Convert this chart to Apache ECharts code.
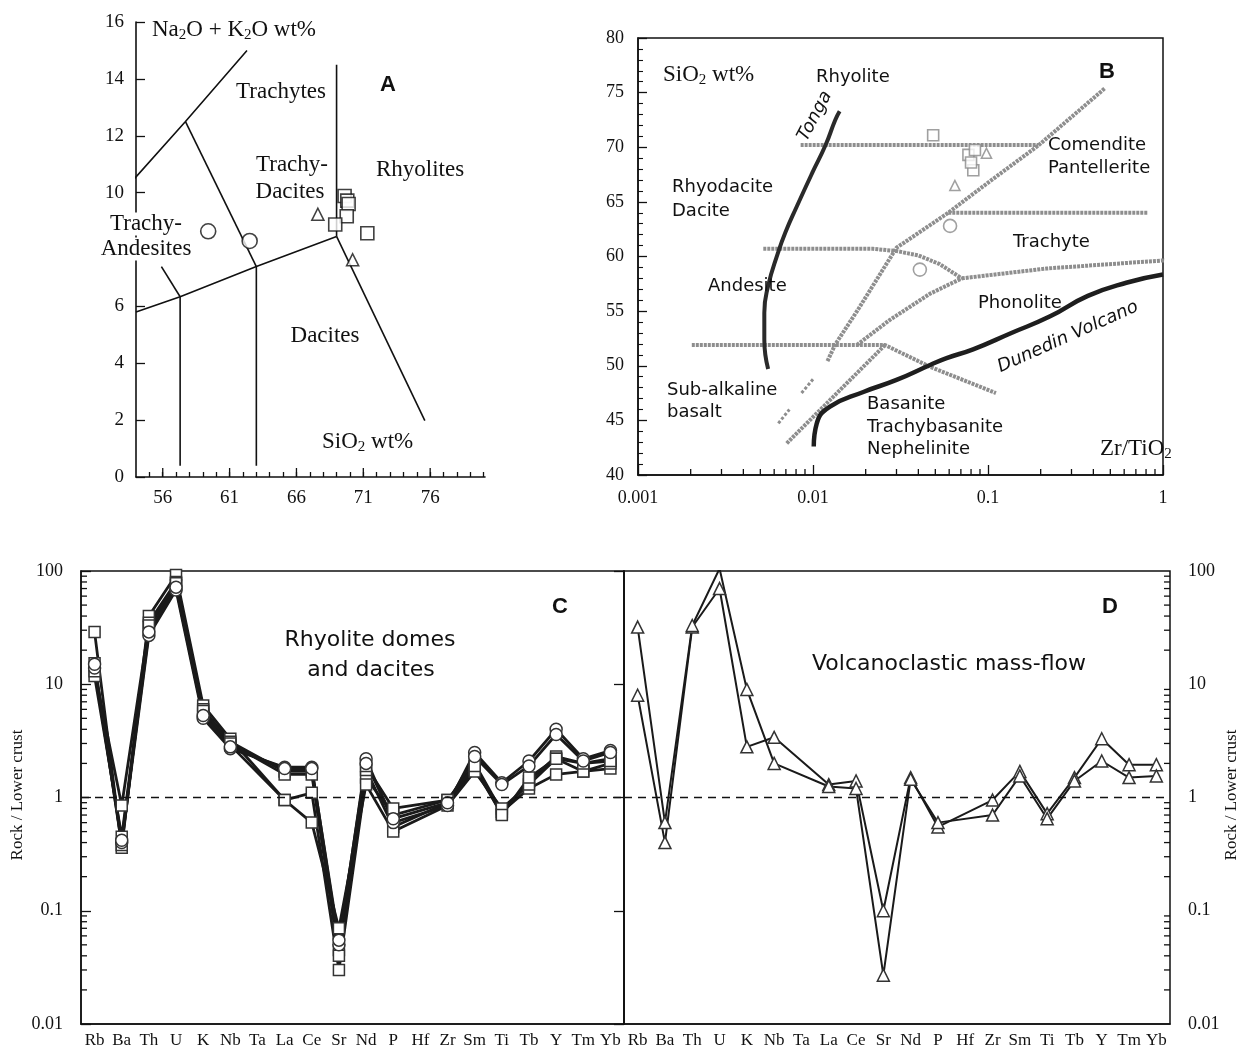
<!DOCTYPE html>
<html>
<head>
<meta charset="utf-8">
<script src="https://cdn.jsdelivr.net/npm/echarts@6/dist/echarts.min.js"></script>
<style>
html,body{margin:0;padding:0;background:#fff;}
#main{width:1244px;height:1053px;}
</style>
</head>
<body>
<div id="main"></div>
<script>
// ---------- Panel A (TAS) ----------
const tasXTicks = [55,56,57,58,59,60,61,62,63,64,65,66,67,68,69,70,71,72,73,74,75,76,77,78,79,80];
const tasXLabels = [56,61,66,71,76];
const tasLineAlkali = [[53.9,10.5],[57.7,12.5],[62.3,15.0]];
const tasLineTrachyDacite = [[57.7,12.5],[63.0,7.4]];
const tasLineRhyolite = [[69.0,14.5],[69.0,8.46]];
const tasLineLower = [[54.0,5.8],[57.3,6.34],[63.0,7.4],[69.0,8.46]];
const tasLineDacite = [[69.0,8.46],[75.6,1.98]];
const tasLine57 = [[57.3,6.34],[57.3,0.4]];
const tasLine63 = [[63.0,7.4],[63.0,0.4]];
const tasLineShort = [[55.9,7.4],[57.3,6.34]];
const tasCircles = [[59.4,8.64],[62.5,8.3]];
const tasSquares = [[69.6,9.88],[69.8,9.72],[69.9,9.6],[69.76,9.17],[68.9,8.88],[71.3,8.57]];
const tasTriangles = [[67.6,9.24],[70.2,7.64]];

// ---------- Panel B (Zr/TiO2 vs SiO2) ----------
const bTonga = [[0.00554,49.7],[0.00527,52.4],[0.00527,54.85],[0.00554,57.3],[0.0063,60.3],[0.00695,62.2],[0.00809,64.6],[0.0099,67.65],[0.0118,70.2],[0.0134,72.5],[0.0142,73.3]];
const bDunedin = [[0.0101,42.6],[0.0105,44.7],[0.0125,46.25],[0.0194,47.6],[0.030,48.7],[0.0467,50.07],[0.058,50.7],[0.0822,51.5],[0.136,53.0],[0.225,54.5],[0.372,56.4],[0.617,57.6],[1.0,58.35]];
const bLine70 = [[0.0085,70.2],[0.194,70.2]];
const bLine64 = [[0.0593,64.0],[0.82,64.0]];
const bLine61 = [[0.0052,60.7],[0.022,60.7],[0.030,60.5],[0.040,60.1],[0.053,59.3],[0.0708,58.0]];
const bLine52 = [[0.00203,51.9],[0.0258,51.9],[0.0467,49.9],[0.111,47.5]];
const bLineComendite = [[0.0121,50.43],[0.0134,51.95],[0.0181,55.15],[0.030,60.8],[0.0592,64.0],[0.1056,67.04],[0.1936,70.15],[0.468,75.43]];
const bLineBasanite = [[0.00708,42.9],[0.0258,51.9]];
const bLinePhonolite = [[0.0178,51.9],[0.0275,54.2],[0.0467,56.6],[0.0708,58.0]];
const bLineTrachyte = [[0.0708,58.0],[0.216,58.9],[1.14,59.7]];
const bDash1 = [[0.0086,47.5],[0.0100,48.76]];
const bDash2 = [[0.00634,44.73],[0.00733,46.0]];
const bSquares = [[0.0486,71.1],[0.0773,69.3],[0.0842,69.75],[0.0824,67.9],[0.0800,68.6]];
const bTriangles = [[0.098,69.45],[0.0647,66.5]];
const bCircles = [[0.0607,62.8],[0.0408,58.8]];

// ---------- Panels C & D (spider diagrams) ----------
const elements = ['Rb','Ba','Th','U','K','Nb','Ta','La','Ce','Sr','Nd','P','Hf','Zr','Sm','Ti','Tb','Y','Tm','Yb'];
const domeCircle1 = [13.9,0.40,27,68,5.0,2.7,null,1.85,1.85,0.05,2.2,0.60,null,0.85,2.5,1.35,2.1,4.0,2.2,2.6];
const domeCircle2 = [15.0,0.42,29,72,5.3,2.8,null,1.80,1.80,0.055,2.0,0.65,null,0.90,2.3,1.30,1.9,3.6,2.1,2.5];
const domeSquare1 = [29,0.36,40,92,6.5,3.3,null,0.95,1.10,0.030,1.5,0.70,null,0.95,2.0,0.75,1.2,1.6,1.7,1.8];
const domeSquare2 = [15.3,0.38,35,80,6.0,3.1,null,1.70,1.70,0.045,1.75,0.55,null,0.90,1.8,0.72,1.4,2.3,2.0,2.2];
const domeSquare3 = [11.8,0.45,32,75,5.5,2.9,null,0.95,0.60,0.070,1.3,0.50,null,0.85,1.7,0.80,1.3,2.2,1.7,2.0];
const domeSquare4 = [13.0,0.85,33,78,5.8,3.0,null,1.60,1.60,0.040,1.9,0.80,null,0.95,1.9,0.70,1.5,2.2,2.0,2.1];
const massFlow1 = [8.0,0.40,32,70,2.8,3.4,null,1.30,1.40,0.10,1.50,0.55,null,0.95,1.70,0.72,1.50,3.3,1.95,1.95];
const massFlow2 = [32,0.60,33,105,9.0,2.0,null,1.25,1.20,0.027,1.45,0.60,null,0.70,1.55,0.65,1.40,2.1,1.50,1.55];

// ---------- helpers ----------
const serif = "'Liberation Serif','Times New Roman',serif";
const sans = "'DejaVu Sans',Verdana,sans-serif";
const arial = "'Liberation Sans',Arial,sans-serif";

function logMinor(lo, hi) {
  const out = [];
  for (let d = lo; d < hi * 0.999; d *= 10) {
    for (let m = 2; m <= 9; m++) out.push(+(m * d).toPrecision(3));
  }
  return out;
}

const chart = echarts.init(document.getElementById('main'), null, {renderer: 'canvas'});

const hatch = {color: '#8e8e8e', width: 4, type: [3, 1]};
function bLine(data, opts) {
  return Object.assign({
    type: 'line', xAxisIndex: 1, yAxisIndex: 1, data: data, symbol: 'none', silent: true,
    lineStyle: hatch, z: 3
  }, opts || {});
}
function aLine(data) {
  return {type: 'line', xAxisIndex: 0, yAxisIndex: 0, data: data, symbol: 'none', silent: true,
    lineStyle: {color: '#111', width: 1.6}, z: 3};
}

const dashMark = {
  silent: true, symbol: 'none', label: {show: false},
  lineStyle: {type: [8, 6], color: '#111', width: 1.4},
  data: [{yAxis: 1}]
};

function spider(data, sym, size, xi, yi, lw, mark) {
  const s = {
    type: 'line', xAxisIndex: xi, yAxisIndex: yi, data: data, connectNulls: true,
    symbol: sym, symbolSize: size, showSymbol: true,
    lineStyle: {color: '#1a1a1a', width: lw},
    itemStyle: {color: '#fff', borderColor: '#333', borderWidth: 1.5},
    z: 4, silent: true
  };
  if (mark) s.markLine = dashMark;
  return s;
}

// short tick marks drawn at data positions through the axes' own scales
function tickSeries(data, xi, yi, dx, dy) {
  return {
    type: 'custom', xAxisIndex: xi, yAxisIndex: yi, data: data, clip: false, silent: true, z: 6,
    renderItem: function (params, api) {
      const p = api.coord([api.value(0), api.value(1)]);
      return {type: 'line', shape: {x1: p[0], y1: p[1], x2: p[0] + dx, y2: p[1] + dy},
        style: {stroke: '#111', lineWidth: 1.3}};
    }
  };
}

const pointStyle = {color: '#fff', borderColor: '#111', borderWidth: 1.6};
const fadedStyle = {color: '#fff', borderColor: '#888', borderWidth: 1.6};

const subRich = {a: {fontFamily: serif, fontSize: 23, lineHeight: 26, fill: '#111'},
                 s: {fontFamily: serif, fontSize: 15, lineHeight: 15, verticalAlign: 'bottom', fill: '#111'}};
function txt(x, y, t, font, align, extra) {
  return Object.assign({type: 'text', x: x, y: y, z: 100,
    style: Object.assign({text: t, font: font, textAlign: align || 'left', textVerticalAlign: 'middle', fill: '#111'}, (extra && extra.style) || {})},
    (extra && extra.rotation !== undefined) ? {rotation: extra.rotation} : {});
}

const option = {
  animation: false,
  backgroundColor: '#fff',
  grid: [
    {left: 136, top: 22, width: 349, height: 455},
    {left: 638, top: 38, width: 525, height: 437, show: true, borderColor: '#111', borderWidth: 1.5},
    {left: 81, top: 571, width: 543, height: 453, show: true, borderColor: '#111', borderWidth: 1.5},
    {left: 624, top: 571, width: 546, height: 453, show: true, borderColor: '#111', borderWidth: 1.5}
  ],
  xAxis: [
    {type: 'value', gridIndex: 0, min: 54, max: 80.1,
      axisLine: {lineStyle: {color: '#111', width: 1.6}},
      axisTick: {inside: true, length: 5, lineStyle: {color: '#111', width: 1.3}, customValues: tasXTicks},
      axisLabel: {customValues: tasXLabels, color: '#111', fontFamily: serif, fontSize: 19, margin: 12},
      splitLine: {show: false}},
    {type: 'log', logBase: 10, gridIndex: 1, min: 0.001, max: 1,
      axisLine: {lineStyle: {color: '#111', width: 1.5}},
      axisTick: {inside: true, length: 10, lineStyle: {color: '#111', width: 1.3}},
      axisLabel: {color: '#111', fontFamily: serif, fontSize: 18, margin: 14,
        formatter: v => String(+Number(v).toPrecision(3))},
      splitLine: {show: false}, minorTick: {show: false}},
    {type: 'category', gridIndex: 2, data: elements, boundaryGap: true,
      axisLine: {lineStyle: {color: '#111', width: 1.5}},
      axisTick: {alignWithLabel: true, inside: true, length: 7, lineStyle: {color: '#111', width: 1.3}},
      axisLabel: {interval: 0, color: '#111', fontFamily: serif, fontSize: 17, margin: 8}},
    {type: 'category', gridIndex: 3, data: elements, boundaryGap: true,
      axisLine: {lineStyle: {color: '#111', width: 1.5}},
      axisTick: {alignWithLabel: true, inside: true, length: 7, lineStyle: {color: '#111', width: 1.3}},
      axisLabel: {interval: 0, color: '#111', fontFamily: serif, fontSize: 17, margin: 8}},
    {type: 'value', gridIndex: 2, min: 0, max: 1, show: false},
    {type: 'value', gridIndex: 3, min: 0, max: 1, show: false}
  ],
  yAxis: [
    {type: 'value', gridIndex: 0, min: 0, max: 16, interval: 2,
      axisLine: {show: true, lineStyle: {color: '#111', width: 1.6}},
      axisTick: {show: true, inside: true, length: 9, lineStyle: {color: '#111', width: 1.3}},
      axisLabel: {color: '#111', fontFamily: serif, fontSize: 19, margin: 12},
      splitLine: {show: false}},
    {type: 'value', gridIndex: 1, min: 40, max: 80, interval: 5,
      axisLine: {show: true, lineStyle: {color: '#111', width: 1.5}},
      axisTick: {show: true, inside: true, length: 9, lineStyle: {color: '#111', width: 1.3}},
      minorTick: {show: true, splitNumber: 5, length: 5, lineStyle: {color: '#111', width: 1.1}},
      axisLabel: {color: '#111', fontFamily: serif, fontSize: 18, margin: 14},
      splitLine: {show: false}},
    {type: 'log', logBase: 10, gridIndex: 2, min: 0.01, max: 100,
      axisLine: {show: true, lineStyle: {color: '#111', width: 1.5}},
      axisTick: {show: true, inside: true, length: 10, lineStyle: {color: '#111', width: 1.3}},
      axisLabel: {color: '#111', fontFamily: serif, fontSize: 18, margin: 18,
        formatter: v => String(+Number(v).toPrecision(3))},
      splitLine: {show: false}},
    {type: 'log', logBase: 10, gridIndex: 3, min: 0.01, max: 100, position: 'right',
      axisLine: {show: true, lineStyle: {color: '#111', width: 1.5}},
      axisTick: {show: true, inside: true, length: 10, lineStyle: {color: '#111', width: 1.3}},
      axisLabel: {color: '#111', fontFamily: serif, fontSize: 18, margin: 18,
        formatter: v => String(+Number(v).toPrecision(3))},
      splitLine: {show: false}}
  ],
  series: [
    // Panel A boundaries
    aLine(tasLineAlkali), aLine(tasLineTrachyDacite), aLine(tasLineRhyolite), aLine(tasLineLower),
    aLine(tasLineDacite), aLine(tasLine57), aLine(tasLine63), aLine(tasLineShort),
    tickSeries(tasXLabels.map(v => [v, 0]), 0, 0, 0, -9),
    {type: 'scatter', xAxisIndex: 0, yAxisIndex: 0, data: tasCircles, symbol: 'circle', symbolSize: 15, itemStyle: pointStyle, z: 5, silent: true},
    {type: 'scatter', xAxisIndex: 0, yAxisIndex: 0, data: tasSquares, symbol: 'rect', symbolSize: 13, itemStyle: pointStyle, z: 5, silent: true},
    {type: 'scatter', xAxisIndex: 0, yAxisIndex: 0, data: tasTriangles, symbol: 'triangle', symbolSize: 12, itemStyle: pointStyle, z: 5, silent: true},
    // Panel B boundaries
    bLine(bLine70), bLine(bLine64), bLine(bLine61), bLine(bLine52), bLine(bLineComendite),
    bLine(bLineBasanite), bLine(bLinePhonolite), bLine(bLineTrachyte, {clip: false}),
    bLine(bDash1, {lineStyle: {color: '#8e8e8e', width: 3, type: [3, 2]}}),
    bLine(bDash2, {lineStyle: {color: '#8e8e8e', width: 3, type: [3, 2]}}),
    bLine(bTonga, {lineStyle: {color: '#2a2a2a', width: 4}, smooth: true, z: 4}),
    bLine(bDunedin, {lineStyle: {color: '#1e1e1e', width: 4.5}, smooth: true, z: 4}),
    tickSeries(logMinor(0.001, 1).map(v => [v, 40]), 1, 1, 0, -6),
    {type: 'scatter', xAxisIndex: 1, yAxisIndex: 1, data: bSquares, symbol: 'rect', symbolSize: 11, itemStyle: fadedStyle, z: 5, silent: true},
    {type: 'scatter', xAxisIndex: 1, yAxisIndex: 1, data: bTriangles, symbol: 'triangle', symbolSize: 10, itemStyle: fadedStyle, z: 5, silent: true},
    {type: 'scatter', xAxisIndex: 1, yAxisIndex: 1, data: bCircles, symbol: 'circle', symbolSize: 13, itemStyle: fadedStyle, z: 5, silent: true},
    // Panel C
    spider(domeSquare1, 'rect', 11, 2, 2, 2.8, true),
    spider(domeSquare2, 'rect', 11, 2, 2, 2.8),
    spider(domeSquare3, 'rect', 11, 2, 2, 2.8),
    spider(domeSquare4, 'rect', 11, 2, 2, 2.8),
    spider(domeCircle1, 'circle', 12, 2, 2, 2.8),
    spider(domeCircle2, 'circle', 12, 2, 2, 2.8),
    tickSeries(logMinor(0.01, 100).map(v => [0, v]), 4, 2, 6, 0),
    // Panel D
    spider(massFlow1, 'triangle', 12, 3, 3, 2.0, true),
    spider(massFlow2, 'triangle', 12, 3, 3, 2.0),
    tickSeries(logMinor(0.01, 100).map(v => [1, v]), 5, 3, -6, 0)
  ],
  graphic: [
    // Panel A labels
    {type: 'text', x: 152, y: 30, z: 100, style: {text: '{a|Na}{s|2}{a|O + K}{s|2}{a|O wt%}', textVerticalAlign: 'middle', rich: subRich}},
    txt(281, 92, 'Trachytes', '23px ' + serif, 'center'),
    txt(388, 85, 'A', 'bold 22px ' + arial, 'center'),
    txt(292, 165, 'Trachy-', '23px ' + serif, 'center'),
    txt(290, 192, 'Dacites', '23px ' + serif, 'center'),
    txt(420, 170, 'Rhyolites', '23px ' + serif, 'center'),
    txt(146, 224, 'Trachy-', '23px ' + serif, 'center', {style: {backgroundColor: '#fff', padding: [0, 2]}}),
    txt(146, 249, 'Andesites', '23px ' + serif, 'center', {style: {backgroundColor: '#fff', padding: [0, 2]}}),
    txt(325, 336, 'Dacites', '23px ' + serif, 'center'),
    {type: 'text', x: 322, y: 442, z: 100, style: {text: '{a|SiO}{s|2}{a| wt%}', textVerticalAlign: 'middle', rich: subRich}},
    // Panel B labels
    {type: 'text', x: 663, y: 75, z: 100, style: {text: '{a|SiO}{s|2}{a| wt%}', textVerticalAlign: 'middle', rich: subRich}},
    txt(816, 77, 'Rhyolite', '18px ' + sans),
    txt(1107, 72, 'B', 'bold 22px ' + arial, 'center'),
    txt(672, 187, 'Rhyodacite', '18px ' + sans),
    txt(672, 211, 'Dacite', '18px ' + sans),
    txt(708, 286, 'Andesite', '18px ' + sans),
    txt(667, 390, 'Sub-alkaline', '18px ' + sans),
    txt(667, 412, 'basalt', '18px ' + sans),
    txt(1048, 145, 'Comendite', '18px ' + sans),
    txt(1048, 168, 'Pantellerite', '18px ' + sans),
    txt(1013, 242, 'Trachyte', '18px ' + sans),
    txt(978, 303, 'Phonolite', '18px ' + sans),
    txt(867, 404, 'Basanite', '18px ' + sans),
    txt(867, 427, 'Trachybasanite', '18px ' + sans),
    txt(867, 449, 'Nephelinite', '18px ' + sans),
    {type: 'text', x: 1100, y: 449, z: 100, style: {text: '{a|Zr/TiO}{s|2}', textVerticalAlign: 'middle', rich: subRich}},
    txt(815, 116, 'Tonga', 'italic 18px ' + sans, 'center', {rotation: 62 * Math.PI / 180}),
    txt(1068, 337, 'Dunedin Volcano', 'italic 18px ' + sans, 'center', {rotation: 24 * Math.PI / 180}),
    // Panel C & D labels
    txt(560, 607, 'C', 'bold 22px ' + arial, 'center'),
    txt(370, 640, 'Rhyolite domes', '22px ' + sans, 'center'),
    txt(371, 670, 'and dacites', '22px ' + sans, 'center'),
    txt(1110, 607, 'D', 'bold 22px ' + arial, 'center'),
    txt(949, 664, 'Volcanoclastic mass-flow', '22px ' + sans, 'center'),
    txt(18, 795, 'Rock / Lower crust', '17px ' + serif, 'center', {rotation: Math.PI / 2}),
    txt(1232, 795, 'Rock / Lower crust', '17px ' + serif, 'center', {rotation: Math.PI / 2})
  ]
};
chart.setOption(option);
</script>
</body>
</html>
